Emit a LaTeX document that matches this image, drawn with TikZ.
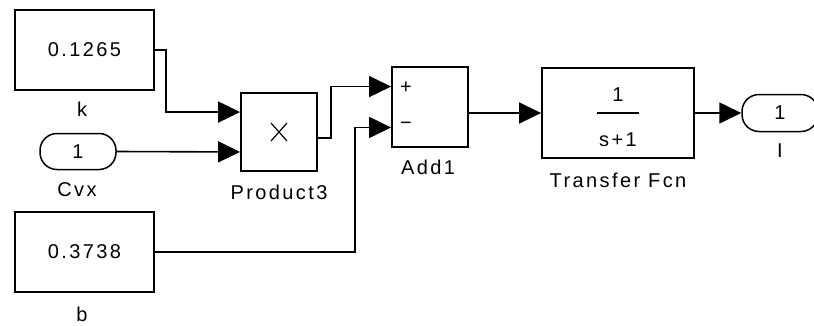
\documentclass[tikz,border=0pt]{standalone}
\usepackage{fontspec}
\setmainfont{Liberation Sans}[LetterSpace=12]
\usetikzlibrary{arrows.meta,calc}
\begin{document}
\begin{tikzpicture}[x=1pt,y=-1pt,
  font=\fontsize{20pt}{22pt}\selectfont,
  blk/.style={draw,line width=1.8pt,inner sep=0pt},
  pill/.style={draw,line width=1.5pt,rounded corners=17pt,inner sep=0pt,minimum width=76pt,minimum height=36pt},
  lbl/.style={inner sep=0pt},
  sig/.style={line width=1.6pt,-{Triangle[length=22pt,width=21pt]}}]
\useasboundingbox (0,0) rectangle (814,325);
\fill[white] (0,0) rectangle (814,325);
% blocks
\node[blk,minimum width=139pt,minimum height=80pt] (k) at (84.5,50) {0.1265};
\node[lbl] (klbl) at (82,109) {k};
\node[pill] (cvx) at (78,151.5) {1};
\node[lbl] (cvxlbl) at (77,190) {Cvx};
\node[blk,minimum width=139pt,minimum height=80pt] (b) at (84.5,252) {0.3738};
\node[lbl] (blbl) at (82,314) {b};
\node[blk,minimum width=76pt,minimum height=78pt] (prod) at (279,132) {};
\node[lbl] (prodlbl) at (279,192) {Product3};
\node[blk,minimum width=76pt,minimum height=80pt] (add) at (430,107) {};
\node[lbl] (addlbl) at (428,167) {Add1};
\node[lbl] (plus) at (406,88) {+};
\node[lbl] (minus) at (406,126) {\char"2212};
\node[blk,minimum width=152pt,minimum height=90pt] (tf) at (618,113) {};
\node[lbl] (num) at (618,95) {1};
\node[lbl] (den) at (618,140) {s+1};
\draw[line width=1.5pt] (597,113) -- (639,113);
\node[lbl] (tflbl) at (618,180) {Transfer Fcn};
\node[pill,minimum height=37pt] (out) at (780,113) {1};
\node[lbl] (outlbl) at (780,151) {I};
% product symbol
\draw[line width=1.2pt] ($(prod.center)+(-8,-9)$) -- ($(prod.center)+(8,9)$);
\draw[line width=1.2pt] ($(prod.center)+(-8,9)$) -- ($(prod.center)+(8,-9)$);
% ports
\coordinate (pin1) at ($(prod.north west)!0.25!(prod.south west)$);
\coordinate (pin2) at ($(prod.north west)!0.75!(prod.south west)$);
\coordinate (ain1) at ($(add.north west)!0.25!(add.south west)$);
\coordinate (ain2) at ($(add.north west)!0.75!(add.south west)$);
% connectors
\draw[sig] (k.east) -- ++(11,0) |- (pin1);
\draw[sig] (cvx.east) -- (pin2);
\draw[sig] ($(prod.east)+(0,6)$) -- ++(13,0) |- (ain1);
\draw[sig] (b.east) -- ++(200,0) |- (ain2);
\draw[sig] (add.east |- tf.west) -- (tf.west);
\draw[sig] (tf.east) -- (out.west);
\end{tikzpicture}
\end{document}
